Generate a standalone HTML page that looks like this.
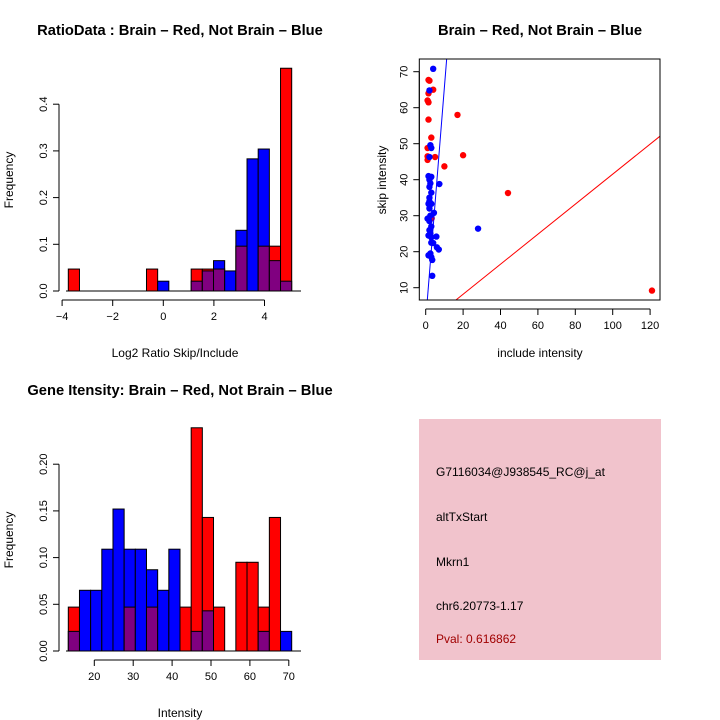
<!DOCTYPE html>
<html><head><meta charset="utf-8"><style>
html,body{margin:0;padding:0;background:#fff;}
svg{display:block;font-family:"Liberation Sans",sans-serif;}
</style></head><body>
<svg id="c" width="720" height="720" viewBox="0 0 720 720" xmlns="http://www.w3.org/2000/svg">
<rect width="720" height="720" fill="#fff"/>
<text x="180" y="35" text-anchor="middle" font-size="14.7" font-weight="bold">RatioData : Brain – Red, Not Brain – Blue</text>
<text x="540" y="35" text-anchor="middle" font-size="14.7" font-weight="bold">Brain – Red, Not Brain – Blue</text>
<text x="180" y="395" text-anchor="middle" font-size="14.7" font-weight="bold">Gene Itensity: Brain – Red, Not Brain – Blue</text>
<text x="175" y="357" text-anchor="middle" font-size="12">Log2 Ratio Skip/Include</text>
<text transform="translate(13,180) rotate(-90)" text-anchor="middle" font-size="12">Frequency</text>
<text x="540" y="357" text-anchor="middle" font-size="12">include intensity</text>
<text transform="translate(386,180) rotate(-90)" text-anchor="middle" font-size="12">skip intensity</text>
<text x="180" y="717" text-anchor="middle" font-size="12">Intensity</text>
<text transform="translate(13,540) rotate(-90)" text-anchor="middle" font-size="12">Frequency</text>
<g>
<rect x="419" y="419" width="242" height="241" fill="#f1c3cc"/>
<text x="436" y="476" font-size="12">G7116034@J938545_RC@j_at</text>
<text x="436" y="521" font-size="12">altTxStart</text>
<text x="436" y="566" font-size="12">Mkrn1</text>
<text x="436" y="610" font-size="12">chr6.20773-1.17</text>
<text x="436" y="643" font-size="12" fill="#a00000">Pval: 0.616862</text>
</g>
</svg>
<script>
// Ratio histogram data (20 bins, -3.77 .. 5.07)
const ratioRed  = [0.047,0,0,0,0,0,0,0.047,0,0,0,0.047,0.047,0.047,0,0.096,0,0.096,0.096,0.477];
const ratioBlue = [0,0,0,0,0,0,0,0,0.021,0,0,0.021,0.043,0.065,0.043,0.13,0.283,0.304,0.065,0.021];
const ratioXTicks = [-4,-2,0,2,4];
const ratioYTicks = [0,0.1,0.2,0.3,0.4];
// Intensity histogram data (20 bins)
const intRed  = [0.047,0,0,0,0,0.047,0,0.047,0,0,0.047,0.239,0.143,0.047,0,0.095,0.095,0.047,0.143,0];
const intBlue = [0.021,0.065,0.065,0.109,0.152,0.109,0.109,0.087,0.065,0.109,0,0.021,0.043,0,0,0,0,0.021,0,0.021];
const intXTicks = [20,30,40,50,60,70];
const intYTicks = [0,0.05,0.10,0.15,0.20];
const intYLabels = ["0.00","0.05","0.10","0.15","0.20"];
// Scatter data
const redX = [1.5,2,4,1.5,1,1.5,1.5,3,17,20,1,1,1,5,10,44,121,3.2];
const redY = [67.7,67.5,65,64,62,61.5,56.7,51.7,58,46.8,48.8,46.5,45.5,46.3,43.7,36.3,9.2,29.3];
const blueX = [4,2,2.5,3,2,1.5,3,2,2.5,7.3,2,3,2,2,1.5,3,2,4.4,1,2.5,2,3,2,2.5,1.5,3,28,5.7,3,4,6,7,2.5,1.5,3,3.5,3.5];
const blueY = [70.8,64.8,49.6,48.8,46.3,41,40.8,40,39,38.8,38,36.4,35,34,33.3,33.3,32,30.8,29.2,30,28.5,27,26,25,24.5,24,26.4,24.2,22.5,22.4,21.2,20.6,19.5,19,18.5,17.7,13.3];
const scXTicks = [0,20,40,60,80,100,120];
const scYTicks = [10,20,30,40,50,60,70];
const fitRed = [0.417,-0.16];   // slope, intercept
const fitBlue = [6.47,1.0];

const NS="http://www.w3.org/2000/svg";
const svg=document.getElementById('c');
function el(t,a,p){const e=document.createElementNS(NS,t);for(const k in a)e.setAttribute(k,a[k]);(p||svg).appendChild(e);return e;}

function hist(red,blue,x0,binW,yScale,name,g){
  for(let i=0;i<red.length;i++){
    const xl=x0+i*binW, r=red[i], b=blue[i], m=Math.min(r,b), M=Math.max(r,b);
    if(M<=0) continue;
    const top=el('rect',{x:xl,y:yScale(M),width:binW,height:yScale(0)-yScale(M),fill:r>=b?'#ff0000':'#0000ff',stroke:'#000','stroke-width':1},g);
    
    
    if(m>0){
      const o=el('rect',{x:xl,y:yScale(m),width:binW,height:yScale(0)-yScale(m),fill:'#800080',stroke:'#000','stroke-width':1},g);
      
      
    }
  }
}
function yAxis(ticks,labels,yScale,x,name){
  const g=el('g',{});
  
  
  el('line',{x1:x,x2:x,y1:yScale(ticks[0]),y2:yScale(ticks[ticks.length-1]),stroke:'#000'},g);
  ticks.forEach((t,i)=>{const y=yScale(t);
    el('line',{x1:x-6,x2:x,y1:y,y2:y,stroke:'#000'},g);
    const tx=el('text',{transform:`translate(${x-12},${y}) rotate(-90)`,'text-anchor':'middle','font-size':11},g);tx.textContent=labels[i];});
}
function xAxis(ticks,xScale,y,name){
  const g=el('g',{});
  
  
  el('line',{x1:xScale(ticks[0]),x2:xScale(ticks[ticks.length-1]),y1:y,y2:y,stroke:'#000'},g);
  ticks.forEach(t=>{const x=xScale(t);
    el('line',{x1:x,x2:x,y1:y,y2:y+6,stroke:'#000'},g);
    const tx=el('text',{x:x,y:y+20,'text-anchor':'middle','font-size':11},g);tx.textContent=String(t).replace('-','−');});
}

// Ratio histogram
{
  const xs=v=>163.3+(v)*25.3, ys=v=>291-v*467;
  const g=el('g',{});
  
  
  hist(ratioRed,ratioBlue,68.3,11.17,ys,'ratio',g);
  el('line',{x1:66,x2:301,y1:291,y2:291,stroke:'#000'},g);
  yAxis(ratioYTicks,ratioYTicks.map(v=>v.toFixed(1)),ys,59,'ratio-y-axis');
  xAxis(ratioXTicks,xs,300,'ratio-x-axis');
}
// Intensity histogram
{
  const xs=v=>94.3+(v-20)*3.89, ys=v=>651-v*934;
  const g=el('g',{});
  
  
  hist(intRed,intBlue,68.3,11.17,ys,'intensity',g);
  el('line',{x1:66,x2:301,y1:651,y2:651,stroke:'#000'},g);
  yAxis(intYTicks,intYLabels,ys,59,'intensity-y-axis');
  xAxis(intXTicks,xs,660,'intensity-x-axis');
}
// Scatter
{
  const L=419.3,R=660,T=59,B=300;
  const xs=v=>425.7+v*1.87, ys=v=>287.7-(v-10)*3.6;
  const g=el('g',{});
  
  
  const cp=el('clipPath',{id:'clp'},g);el('rect',{x:L,y:T,width:R-L,height:B-T},cp);
  const pg=el('g',{'clip-path':'url(#clp)'},g);
  redX.forEach((x,i)=>{const c=el('circle',{cx:xs(x),cy:ys(redY[i]),r:3.2,fill:'#ff0000'},pg);
    
    });
  blueX.forEach((x,i)=>{const c=el('circle',{cx:xs(x),cy:ys(blueY[i]),r:3.2,fill:'#0000ff'},pg);
    
    });
  const lr=el('line',{x1:xs(-10),y1:ys(fitRed[0]*-10+fitRed[1]),x2:xs(140),y2:ys(fitRed[0]*140+fitRed[1]),stroke:'#ff0000','stroke-width':1},pg);
  
  
  const lb=el('line',{x1:xs(-1),y1:ys(fitBlue[0]*-1+fitBlue[1]),x2:xs(15),y2:ys(fitBlue[0]*15+fitBlue[1]),stroke:'#0000ff','stroke-width':1},pg);
  
  
  el('rect',{x:L,y:T,width:R-L,height:B-T,fill:'none',stroke:'#000'},g);
  yAxis(scYTicks,scYTicks.map(String),ys,L,'scatter-y-axis');
  xAxis(scXTicks,xs,B+9,'scatter-x-axis');
}
</script>
</body></html>
